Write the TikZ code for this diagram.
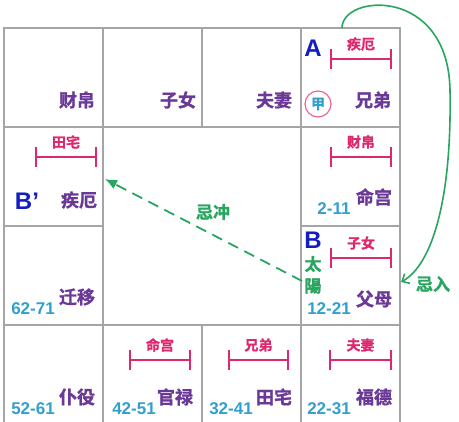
\documentclass[tikz,border=0pt]{standalone}
\usepackage{fontspec}
\newfontfamily\cjk[FakeBold=1.2]{Noto Sans CJK SC Bold}
\setmainfont{Liberation Sans}
\usetikzlibrary{arrows.meta}
\definecolor{cpurple}{RGB}{106,56,150}
\definecolor{cpink}{RGB}{222,40,110}
\definecolor{cblue}{RGB}{20,30,190}
\definecolor{ccyan}{RGB}{50,160,205}
\definecolor{cgreen}{RGB}{40,165,95}
\definecolor{cgrid}{RGB}{165,165,165}
\tikzset{
  palace/.style={font=\cjk\fontsize{18}{18}\selectfont, text=cpurple, inner sep=0pt},
  tag/.style={font=\cjk\fontsize{14}{14}\selectfont, text=cpink, inner sep=0pt},
  age/.style={font=\bfseries\fontsize{17}{17}\selectfont, text=ccyan, inner sep=0pt},
  letter/.style={font=\bfseries\fontsize{24}{24}\selectfont, text=cblue, inner sep=0pt},
  bar/.style={draw=cpink, line width=1.6pt},
  star/.style={font=\cjk\fontsize{17}{17}\selectfont, text=cgreen, inner sep=0pt},
}
\newcommand{\tagbar}[4]{% x1 x2 y name
  \draw[bar] (#1,#3) -- (#2,#3);
  \draw[bar] (#1,#3-10) -- (#1,#3+10);
  \draw[bar] (#2,#3-10) -- (#2,#3+10);
  \node[tag] at ({(#1+#2)/2},#3-15) {#4};
}
\begin{document}
\begin{tikzpicture}[x=1pt,y=-1pt]
\useasboundingbox (0,0) rectangle (459,422);
\fill[white] (0,0) rectangle (459,422);
% grid
\draw[cgrid, line width=1.3pt] (400,426) -- (400,28) -- (4,28) -- (4,426);
\foreach \x in {103,202,301} \draw[cgrid, line width=1.3pt] (\x,28) -- (\x,127);
\foreach \x in {103,202,301} \draw[cgrid, line width=1.3pt] (\x,325) -- (\x,426);
\draw[cgrid, line width=1.3pt] (103,127) -- (103,325);
\draw[cgrid, line width=1.3pt] (301,127) -- (301,325);
\draw[cgrid, line width=1.3pt] (4,127) -- (400,127);
\draw[cgrid, line width=1.3pt] (4,325) -- (400,325);
\draw[cgrid, line width=1.3pt] (4,226) -- (103,226);
\draw[cgrid, line width=1.3pt] (301,226) -- (400,226);
% top row
\node[palace] (caibo) at (77,100) {财帛};
\node[palace] (zinv) at (178,100) {子女};
\node[palace] (fuqi) at (274,100) {夫妻};
\node[palace] (xiongdi) at (373,100) {兄弟};
\node[letter] (A) at (313,48) {A};
\tagbar{331}{391}{59}{疾厄}
\node[circle, draw=cpink!70, line width=1.2pt, minimum size=26pt, inner sep=0pt, font=\cjk\fontsize{14}{14}\selectfont, text=ccyan] (jia) at (318,104) {甲};
% row 2
\tagbar{36}{96}{157}{田宅}
\node[letter] (Bp) at (27,201) {B’};
\node[palace] (jie) at (79,200) {疾厄};
\tagbar{331}{391}{157}{财帛}
\node[palace] (ming) at (374,197) {命宫};
\node[age] (a1) at (334,209) {2-11};
% row 3
\node[letter] (B) at (313,240) {B};
\tagbar{331}{391}{258}{子女}
\node[star] (tai) at (313,264) {太};
\node[star] (yang) at (313,286) {陽};
\node[age] (a2) at (329,309) {12-21};
\node[palace] (fumu) at (374,299) {父母};
\node[palace] (qianyi) at (77,297) {迁移};
\node[age] (a3) at (33,309) {62-71};
% bottom row
\node[palace] (puyi) at (77,397) {仆役};
\node[age] (a4) at (33,409) {52-61};
\tagbar{130}{190}{360}{命宫}
\node[palace] (guanlu) at (175,397) {官禄};
\node[age] (a5) at (134,409) {42-51};
\tagbar{229}{288}{360}{兄弟}
\node[palace] (tianzhai) at (274,397) {田宅};
\node[age] (a6) at (231,409) {32-41};
\tagbar{330}{391}{360}{夫妻}
\node[palace] (fude) at (374,397) {福德};
\node[age] (a7) at (329,409) {22-31};
% connectors
\coordinate (ds) at (302,281);
\coordinate (de) at (105,179);
\draw[cgreen, line width=1.8pt, dash pattern=on 11pt off 7pt, -{Latex[length=12pt,width=10pt]}] (ds) -- (de);
\node[star] (jichong) at (213,212) {忌冲};
\coordinate (cs) at (342,28);
\coordinate (ce) at (401,282);
\draw[cgreen, line width=1.6pt, -{Straight Barb[length=6pt,width=11pt]}] (cs) .. controls (342,-6) and (448,-14) .. (450,90) .. controls (452,200) and (432,265) .. (ce);
\node[star] (jiru) at (433,284) {忌入};
\end{tikzpicture}
\end{document}
